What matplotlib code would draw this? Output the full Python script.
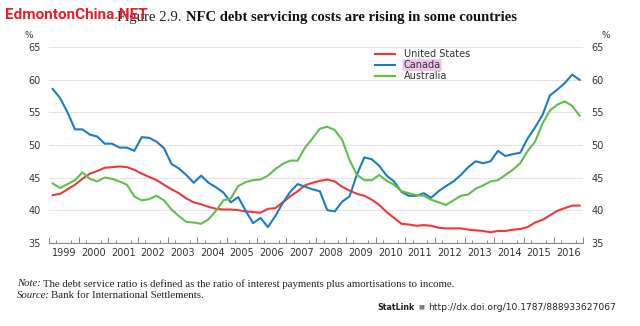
import numpy as np
import matplotlib
matplotlib.use("Agg")
import matplotlib.pyplot as plt

# ---------------- data (quarterly, 1999Q1 - 2016Q4) ----------------
start_year = 1999
n_quarters = 72
years = list(range(1999, 2017))
year_labels = [str(y) for y in years]

united_states = [42.3, 42.5, 43.2, 43.9, 44.8, 45.6, 46.0, 46.5, 46.6, 46.7, 46.6, 46.2,
                 45.6, 45.1, 44.6, 43.9, 43.2, 42.6, 41.8, 41.2, 40.9, 40.5, 40.2, 40.1,
                 40.1, 40.0, 39.8, 39.7, 39.6, 40.2, 40.3, 41.2, 42.1, 42.9, 43.8, 44.2,
                 44.5, 44.7, 44.4, 43.6, 43.0, 42.5, 42.2, 41.6, 40.8, 39.7, 38.8, 37.9,
                 37.8, 37.6, 37.7, 37.6, 37.3, 37.2, 37.2, 37.2, 37.0, 36.9, 36.8, 36.6,
                 36.8, 36.8, 37.0, 37.1, 37.4, 38.1, 38.5, 39.2, 39.9, 40.3, 40.7, 40.7]

canada = [58.6, 57.2, 55.0, 52.4, 52.4, 51.6, 51.3, 50.2, 50.2, 49.6, 49.6, 49.1,
          51.2, 51.1, 50.5, 49.5, 47.1, 46.4, 45.4, 44.2, 45.3, 44.2, 43.5, 42.7,
          41.2, 42.0, 39.9, 38.0, 38.8, 37.4, 39.1, 41.1, 42.8, 44.0, 43.6, 43.2,
          42.9, 40.0, 39.8, 41.3, 42.1, 45.5, 48.1, 47.8, 46.8, 45.3, 44.4, 42.8,
          42.2, 42.2, 42.6, 41.9, 42.9, 43.7, 44.4, 45.4, 46.6, 47.5, 47.2, 47.5,
          49.1, 48.3, 48.6, 48.8, 51.0, 52.7, 54.6, 57.6, 58.5, 59.5, 60.8, 60.0]

australia = [44.1, 43.4, 44.0, 44.6, 45.8, 44.8, 44.4, 45.0, 44.8, 44.4, 43.9, 42.1,
             41.5, 41.7, 42.2, 41.5, 40.1, 39.1, 38.2, 38.1, 37.9, 38.6, 39.9, 41.5,
             41.8, 43.7, 44.3, 44.6, 44.7, 45.3, 46.3, 47.1, 47.6, 47.6, 49.6, 51.0,
             52.5, 52.8, 52.3, 50.8, 47.7, 45.4, 44.6, 44.6, 45.4, 44.5, 43.9, 42.9,
             42.6, 42.3, 42.2, 41.6, 41.2, 40.8, 41.5, 42.2, 42.4, 43.3, 43.8, 44.4,
             44.6, 45.4, 46.2, 47.2, 49.1, 50.5, 53.3, 55.3, 56.2, 56.7, 56.0, 54.5]

series_names = ["United States", "Canada", "Australia"]
y_ticks = [35, 40, 45, 50, 55, 60, 65]

# ---------------- figure ----------------
c_us = "#f2373c"
c_ca = "#1c7cc2"
c_au = "#5fbf4c"
grid_c = "#e3e3e3"
txt_c = "#333333"

W, H = 640, 326
fig = plt.figure(figsize=(W / 100, H / 100), dpi=100)
fig.patch.set_facecolor("white")
ax = fig.add_axes([49 / W, 1 - 242.7 / H, (583.3 - 49) / W, (242.7 - 47.3) / H])

x = start_year + (np.arange(n_quarters) + 0.5) / 4.0
ax.plot(x, united_states, color=c_us, lw=1.5, label=series_names[0], solid_joinstyle="round", zorder=3)
ax.plot(x, canada, color=c_ca, lw=1.5, label=series_names[1], solid_joinstyle="round", zorder=3)
ax.plot(x, australia, color=c_au, lw=1.5, label=series_names[2], solid_joinstyle="round", zorder=3)

ax.set_xlim(1999, 2017)
ax.set_ylim(35, 65)
ax.set_yticks(y_ticks)
ax.yaxis.grid(True, color=grid_c, lw=0.8)
ax.set_axisbelow(True)
for s in ["left", "right", "top"]:
    ax.spines[s].set_visible(False)
ax.spines["bottom"].set_color("#888888")
ax.spines["bottom"].set_linewidth(0.8)

ax.tick_params(axis="y", which="both", length=0, labelsize=7, labelcolor=txt_c,
               left=True, right=True, labelleft=True, labelright=True, pad=6)

ax.set_xticks([y + 0.5 for y in years])
ax.set_xticklabels(year_labels)
ax.set_xticks(np.arange(1999, 2017.01, 0.25), minor=True)
ax.tick_params(axis="x", which="major", length=0, labelsize=7, labelcolor=txt_c, pad=4)
ax.tick_params(axis="x", which="minor", length=2, direction="in", color="#888888", width=0.7)

sec = ax.secondary_xaxis("bottom")
sec.set_xticks(list(range(1999, 2018)))
sec.set_xticklabels([])
sec.tick_params(axis="x", length=4.5, direction="in", color="#888888", width=0.7)
sec.spines["bottom"].set_visible(False)

ax.text(-0.037, 1.035, "%", transform=ax.transAxes, fontsize=6.5, color=txt_c, ha="center", va="bottom")
ax.text(1.043, 1.035, "%", transform=ax.transAxes, fontsize=6.5, color=txt_c, ha="center", va="bottom")

leg = ax.legend(loc="upper left", bbox_to_anchor=(0.6, 1.02), frameon=False, fontsize=7,
                handlelength=2.0, handletextpad=0.9, labelspacing=0.1, borderaxespad=0.2)
for t in leg.get_texts():
    t.set_color(txt_c)
leg.get_texts()[1].set_bbox(dict(boxstyle="round,pad=0.1", fc="#ecc4ec", ec="none"))

renderer = fig.canvas.get_renderer()


def fitted_text(x0, x1, y, s, size, **kw):
    t = fig.text(x0 / W, 1 - y / H, s, fontsize=size, va="center", ha="left", **kw)
    w = t.get_window_extent(renderer).width
    t.set_fontsize(size * (x1 - x0) / w)
    return t


serif = ["Liberation Serif", "DejaVu Serif"]
fitted_text(117, 181, 17, "Figure 2.9.", 10, family=serif, color="#222222")
fitted_text(186, 516, 17, "NFC debt servicing costs are rising in some countries", 10,
            family=serif, weight="bold", color="#111111")
fitted_text(5, 147, 15, "EdmontonChina.NET", 12, weight="bold",
            family=["Liberation Sans Narrow", "Roboto", "DejaVu Sans"], color="#ee1c25", zorder=10)

body = fitted_text(43, 453, 284,
                   "The debt service ratio is defined as the ratio of interest payments plus amortisations to income.",
                   6.5, family=serif, color="#222222")
fs = body.get_fontsize()
fig.text(17 / W, 1 - 284 / H, "Note:", fontsize=fs, family=serif, style="italic",
         color="#222222", va="center", ha="left")
fig.text(17 / W, 1 - 295 / H, "Source:", fontsize=fs, family=serif, style="italic",
         color="#222222", va="center", ha="left")
fig.text(51 / W, 1 - 295 / H, "Bank for International Settlements.", fontsize=fs,
         family=serif, color="#222222", va="center", ha="left")
fitted_text(377, 414, 307, "StatLink", 6.5, family="DejaVu Sans", weight="bold", color="#222222")
fig.text(418 / W, 1 - 307 / H, "\u25ae\u25ae", fontsize=4.5, color="#777777", va="center")
fitted_text(428, 615, 307, "http://dx.doi.org/10.1787/888933627067", 6.5,
            family=["Liberation Sans Narrow", "DejaVu Sans"], color="#222222")

fig.savefig("out.png", dpi=100, facecolor="white")
